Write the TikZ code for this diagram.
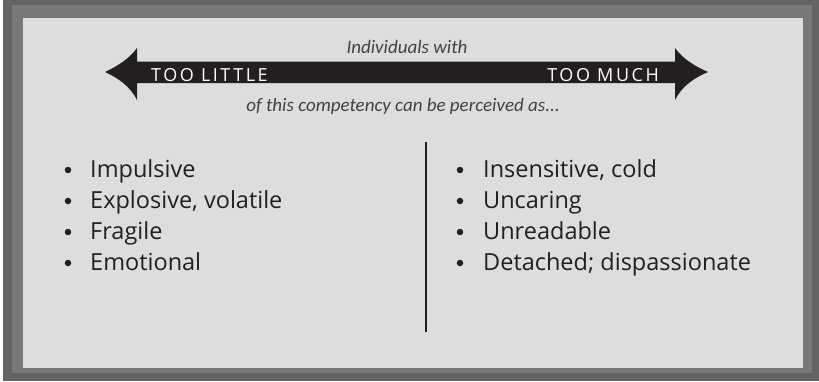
\documentclass[tikz,border=0pt]{standalone}
\usepackage{fontspec}
\setmainfont{Open Sans}
\newfontfamily\capfont{Carlito}
\newfontfamily\spacedfont[LetterSpace=14]{Open Sans}
\definecolor{frameout}{HTML}{636466}
\definecolor{framein}{HTML}{77787A}
\definecolor{panel}{HTML}{DCDDDF}
\definecolor{ink}{HTML}{231F20}
\tikzset{
  itemtext/.style={anchor=base west, text=ink, font=\fontsize{23.5}{26}\selectfont, inner sep=0pt},
  dot/.style={circle, fill=ink, inner sep=0pt, minimum size=6.5pt},
  notetext/.style={anchor=base, text=ink!85, font=\capfont\itshape\fontsize{19}{21}\selectfont, inner sep=0pt},
  endtext/.style={anchor=base, text=white, font=\spacedfont\fontsize{18}{20}\selectfont, inner sep=0pt},
}
\begin{document}
\begin{tikzpicture}[x=1pt,y=-1pt]
\useasboundingbox (0,0) rectangle (819,381);
% bevelled frame
\fill[white] (0,0) rectangle (819,381);
\fill[frameout] (3,0) rectangle (819,381);
\fill[framein] (12,5) rectangle (812,373);
\fill[panel] (22.5,18) rectangle (803,368);
% double-headed arrow with concave heads
\fill[ink] (105,72)
  .. controls (118,66) and (130,58) .. (137,48)
  -- (137,61.5) -- (675,61.5) -- (675,48)
  .. controls (682,58) and (694,66) .. (708,72)
  .. controls (694,78) and (682,86) .. (675,100)
  -- (675,83) -- (137,83) -- (137,100)
  .. controls (130,86) and (118,78) .. (105,72) -- cycle;
\node[endtext, anchor=base west] (little) at (151,81) {TOO LITTLE};
\node[endtext, anchor=base east] (much) at (659,81) {TOO MUCH};
\node[notetext] (above) at (407,53) {Individuals with};
\node[notetext] (below) at (403,111) {of this competency can be perceived as...};
% divider
\coordinate (divtop) at (426,142);
\coordinate (divbot) at (426,332);
\draw[ink, line width=2pt] (divtop) -- (divbot);
% left list
\foreach \t [count=\i] in {Impulsive,{Explosive, volatile},Fragile,Emotional}{
  \node[dot] (ld\i) at (68,170+31*\i-31) {};
  \node[itemtext] (lt\i) at (90,177+31*\i-31) {\t};
}
% right list
\foreach \t [count=\i] in {{Insensitive, cold},Uncaring,Unreadable,{Detached; dispassionate}}{
  \node[dot] (rd\i) at (460,170+31*\i-31) {};
  \node[itemtext] (rt\i) at (483,177+31*\i-31) {\t};
}
\end{tikzpicture}
\end{document}
